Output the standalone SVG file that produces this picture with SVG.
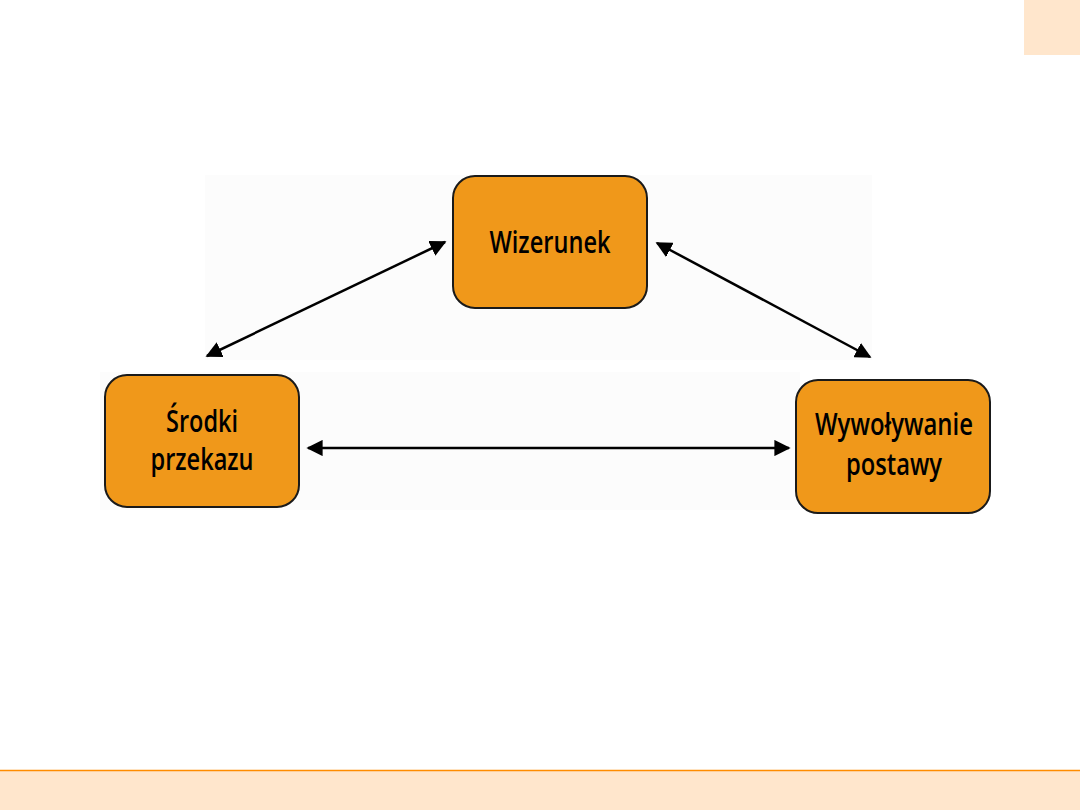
<svg xmlns="http://www.w3.org/2000/svg" width="1080" height="810" viewBox="0 0 1080 810">
<defs>
<style>
.node rect{fill:#F0981A;stroke:#1a1a1a;stroke-width:2}
.node text{font-family:"Open Sans","Noto Sans",sans-serif;font-weight:600;font-size:30px;fill:#000;text-anchor:middle}
.conn line{stroke:#000;stroke-width:2.5}
</style>
<marker id="ah" viewBox="0 0 10 10" refX="9" refY="5" markerWidth="6.5" markerHeight="6.5" orient="auto-start-reverse" markerUnits="strokeWidth">
<path d="M0,0 L10,5 L0,10 Z" fill="#000"/>
</marker>
</defs>
<rect width="1080" height="810" fill="#fff"/>
<rect x="1024" y="0" width="56" height="55" fill="#FFE6CC"/>
<rect x="0" y="770" width="1080" height="40" fill="#FFE6CC"/>
<line x1="0" y1="770.5" x2="1080" y2="770.5" stroke="#FF8C00" stroke-width="1.5"/>
<rect x="205" y="175" width="667" height="185" fill="#fcfcfc"/>
<rect x="100" y="372" width="700" height="138" fill="#fcfcfc"/>
<g class="conn">
<line x1="207" y1="356" x2="445" y2="242" marker-start="url(#ah)" marker-end="url(#ah)"/>
<line x1="657" y1="243" x2="870" y2="357" marker-start="url(#ah)" marker-end="url(#ah)"/>
<line x1="308" y1="448" x2="789" y2="448" marker-start="url(#ah)" marker-end="url(#ah)"/>
</g>
<g id="wizerunek" class="node">
<rect x="453" y="176" width="194" height="132" rx="22"/>
<text x="550" y="253" textLength="121" lengthAdjust="spacingAndGlyphs">Wizerunek</text>
</g>
<g id="srodki" class="node">
<rect x="105" y="375" width="194" height="132" rx="22"/>
<text x="202" y="432" textLength="72" lengthAdjust="spacingAndGlyphs">Środki</text>
<text x="202" y="470" textLength="103" lengthAdjust="spacingAndGlyphs">przekazu</text>
</g>
<g id="wywolywanie" class="node">
<rect x="796" y="380" width="194" height="133" rx="22"/>
<text x="894" y="435" textLength="158" lengthAdjust="spacingAndGlyphs">Wywoływanie</text>
<text x="894" y="475" textLength="96" lengthAdjust="spacingAndGlyphs">postawy</text>
</g>
</svg>
